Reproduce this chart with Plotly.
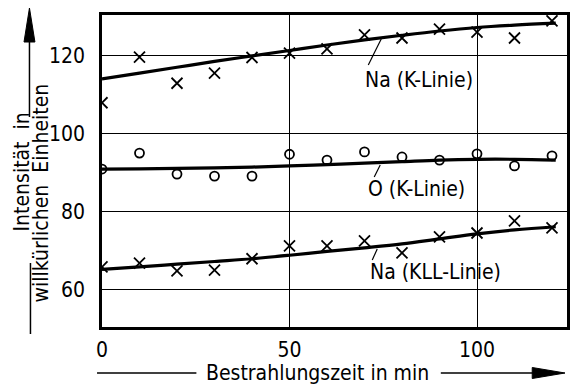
import plotly.graph_objects as go

# ---- data ----
time_min = [0, 10, 20, 30, 40, 50, 60, 70, 80, 90, 100, 110, 120]
na_k = [108.0, 119.7, 113.0, 115.6, 119.6, 120.7, 121.8, 125.4, 124.6, 126.9, 126.1, 124.6, 129.0]
o_k = [91.0, 95.1, 89.7, 89.2, 89.2, 94.8, 93.3, 95.4, 94.1, 93.3, 94.9, 91.8, 94.4]
na_kll = [65.9, 66.9, 64.9, 65.1, 68.0, 71.3, 71.3, 72.6, 69.5, 73.6, 74.6, 77.7, 75.9]

fit_t = [0, 10, 20, 30, 40, 50, 60, 70, 80, 90, 100, 110, 121]
na_k_fit = [114.1, 115.6, 117.1, 118.6, 120.0, 121.4, 122.8, 124.1, 125.3, 126.4, 127.3, 127.9, 128.4]
o_k_fit = [91.0, 91.05, 91.15, 91.3, 91.5, 91.8, 92.15, 92.5, 92.9, 93.3, 93.5, 93.5, 93.3]
na_kll_fit = [65.3, 65.9, 66.6, 67.3, 68.0, 68.9, 69.9, 70.8, 71.8, 73.1, 74.4, 75.4, 76.2]

x_ticks = [0, 50, 100]
y_ticks = [60, 80, 100, 120]

FONT = "Liberation Sans Narrow, DejaVu Sans Condensed, sans-serif"

W, H = 577, 384
L, R, T, B = 102, 7, 15, 57
PW, PH = W - L - R, H - T - B


def px(x, y):
    return (x - L) / PW, (H - B - y) / PH


fig = go.Figure()

for yfit in (na_k_fit, o_k_fit, na_kll_fit):
    fig.add_trace(go.Scatter(x=fit_t, y=yfit, mode="lines", line=dict(color="black", width=3.2, shape="spline"),
                             hoverinfo="skip", showlegend=False))

fig.add_trace(go.Scatter(x=time_min, y=na_k, mode="markers",
                         marker=dict(symbol="x-thin", size=11, line=dict(color="black", width=1.8)), showlegend=False))
fig.add_trace(go.Scatter(x=time_min, y=o_k, mode="markers",
                         marker=dict(symbol="circle-open", size=9, color="black", line=dict(color="black", width=1.8)),
                         showlegend=False))
fig.add_trace(go.Scatter(x=time_min, y=na_kll, mode="markers",
                         marker=dict(symbol="x-thin", size=11, line=dict(color="black", width=1.8)), showlegend=False))

shapes = []
annotations = []


def line(x0, y0, x1, y1, w=1.5):
    a, b = px(x0, y0)
    c, d = px(x1, y1)
    shapes.append(dict(type="line", xref="paper", yref="paper", x0=a, y0=b, x1=c, y1=d,
                       line=dict(color="black", width=w)))


def tri(pts):
    p = [px(*q) for q in pts]
    path = "M {} {} L {} {} L {} {} Z".format(p[0][0], p[0][1], p[1][0], p[1][1], p[2][0], p[2][1])
    shapes.append(dict(type="path", xref="paper", yref="paper", path=path,
                       fillcolor="black", line=dict(color="black", width=1)))


# leader lines for curve labels
line(383, 39, 370, 65, 1.2)
line(382, 165, 376, 177, 1.2)
line(379, 249, 374, 260, 1.2)

# y title arrow and line
line(29, 117, 29, 38, 1.5)
tri([(29, 8), (23.5, 42), (34.5, 42)])
line(30, 263, 30, 334, 1.5)

# x title line and arrow
line(97, 373, 197, 373, 1.5)
line(443, 373, 540, 373, 1.5)
tri([(568, 373), (535, 367.5), (535, 378.5)])


def label(text, x, y, size=21, angle=0):
    a, b = px(x, y)
    annotations.append(dict(text=text, xref="paper", yref="paper", x=a, y=b, showarrow=False,
                            xanchor="center", yanchor="middle", textangle=angle,
                            font=dict(family=FONT, size=size, color="black")))


label("Na (K-Linie)", 421, 80)
label("O (K-Linie)", 419, 189)
label("Na (KLL-Linie)", 438, 272)
label("Bestrahlungszeit in min", 319, 373)
label("Intensität  in", 21, 172, angle=-90)
label("willkürlichen  Einheiten", 41, 193, angle=-90)

fig.update_layout(
    width=W, height=H,
    margin=dict(l=L, r=R, t=T, b=B),
    paper_bgcolor="white", plot_bgcolor="white",
    shapes=shapes, annotations=annotations,
    xaxis=dict(range=[0, 124], tickvals=x_ticks, ticktext=[str(v) for v in x_ticks],
               showgrid=True, gridcolor="black", gridwidth=1, zeroline=False,
               showline=True, linecolor="black", linewidth=2.5, mirror=True, ticks="",
               ticklabelstandoff=2, tickfont=dict(family=FONT, size=21, color="black")),
    yaxis=dict(range=[50.5, 130.5], tickvals=y_ticks, ticktext=[str(v) for v in y_ticks],
               showgrid=True, gridcolor="black", gridwidth=1, zeroline=False,
               showline=True, linecolor="black", linewidth=2.5, mirror=True, ticks="",
               ticklabelstandoff=10, tickfont=dict(family=FONT, size=21, color="black")),
)

fig.write_html("out.html")
